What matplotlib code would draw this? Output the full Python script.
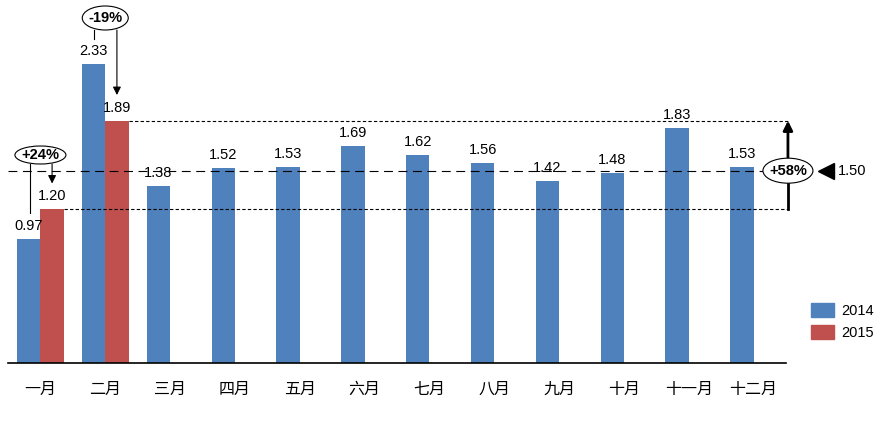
import matplotlib.pyplot as plt
from matplotlib.patches import Ellipse, Patch

months = ["一月", "二月", "三月", "四月", "五月", "六月",
          "七月", "八月", "九月", "十月", "十一月", "十二月"]
v2014 = [0.97, 2.33, 1.38, 1.52, 1.53, 1.69, 1.62, 1.56, 1.42, 1.48, 1.83, 1.53]
v2015 = [1.20, 1.89]
avg = 1.50
pct_jan = "+24%"
pct_feb = "-19%"
pct_range = "+58%"

blue = "#4F81BD"
red = "#C0504D"
num_font = ["Liberation Sans", "Noto Sans CJK SC"]

fig = plt.figure(figsize=(8.82, 4.29), dpi=100)
ax = fig.add_axes([8 / 882, 66 / 429, 778 / 882, 359 / 429])
ax.set_xlim(-0.5, 11.5)
ax.set_ylim(0, 2.8)

# size of one pixel in data units
px = 12 / 778
py = 2.8 / 359

w = 0.36
x = list(range(len(months)))
ax.bar([i - w for i in x], v2014, width=w, align="edge", color=blue, zorder=2)
ax.bar([i for i in range(len(v2015))], v2015, width=w, align="edge", color=red, zorder=2)

for i, v in enumerate(v2014):
    ax.text(i - w / 2, v + 6 * py, "%.2f" % v, ha="center", va="bottom",
            fontsize=10.5, family=num_font)
for i, v in enumerate(v2015):
    ax.text(i + w / 2, v + 6 * py, "%.2f" % v, ha="center", va="bottom",
            fontsize=10.5, family=num_font)

for s in ["top", "left", "right"]:
    ax.spines[s].set_visible(False)
ax.spines["bottom"].set_linewidth(1.2)
ax.set_yticks([])
ax.set_xticks(x)
ax.set_xticklabels(months, fontsize=11.5, family=["Noto Sans CJK SC"])
ax.tick_params(axis="x", length=0, pad=13)


def oval(cx, cy, wpx, hpx, label):
    ax.add_patch(Ellipse((cx, cy), wpx * px, hpx * py, facecolor="white",
                         edgecolor="black", lw=0.8, zorder=5, clip_on=False))
    ax.text(cx, cy, label, ha="center", va="center", fontsize=10.5,
            fontweight="bold", family=num_font, zorder=6, clip_on=False)


def arrow_down(xx, y0, y1):
    ax.annotate("", xy=(xx, y1), xytext=(xx, y0),
                arrowprops=dict(arrowstyle="-|>", color="black", lw=0.8,
                                mutation_scale=12, shrinkA=0, shrinkB=0),
                annotation_clip=False)


# 一月: 2014 -> 2015
oy = (363 - 155) * py
oval(0, oy, 51, 18, pct_jan)
ax.plot([-w / 2 + 0.02, -w / 2 + 0.02], [oy - 9 * py, v2014[0] + 0.2], color="black", lw=0.8)
arrow_down(w / 2, oy - 9 * py, v2015[0] + 0.2)

# 二月: 2014 -> 2015
oy = (363 - 18) * py
oval(1, oy, 46, 24, pct_feb)
ax.plot([1 - w / 2, 1 - w / 2], [oy - 12 * py, v2014[1] + 0.195], color="black", lw=0.8,
        clip_on=False)
arrow_down(1 + w / 2, oy - 12 * py, v2015[1] + 0.2)

# range lines
xr = 11.53
ax.plot([1 + w, xr], [v2015[1], v2015[1]], color="black", lw=0.8,
        linestyle=(0, (3, 2)), clip_on=False, zorder=3)
ax.plot([w, xr], [v2015[0], v2015[0]], color="black", lw=0.8,
        linestyle=(0, (3, 2)), clip_on=False, zorder=3)
ax.plot([-0.5, xr - 25 * px], [avg, avg], color="black", lw=0.8,
        linestyle=(0, (8, 5)), clip_on=False, zorder=3)

ax.plot([xr, xr], [v2015[0], avg], color="black", lw=2, clip_on=False)
ax.annotate("", xy=(xr, v2015[1]), xytext=(xr, avg),
            arrowprops=dict(arrowstyle="-|>", color="black", lw=2,
                            mutation_scale=14, shrinkA=0, shrinkB=0),
            annotation_clip=False)
oval(xr, avg, 50, 25, pct_range)

ax.plot([xr + 38 * px], [avg], marker="<", color="black", markersize=11, clip_on=False)
ax.text(xr + 50 * px, avg, "%.2f" % avg, ha="left", va="center", fontsize=10.5,
        family=num_font)

handles = [Patch(color=blue, label="2014"), Patch(color=red, label="2015")]
fig.legend(handles=handles, loc="upper left", bbox_to_anchor=(798 / 882, 1 - 290 / 429),
           frameon=False, prop={"family": num_font, "size": 10.5},
           handlelength=1.6, handleheight=1.1, handletextpad=0.5, labelspacing=0.45)

fig.savefig("out.png", dpi=100)
